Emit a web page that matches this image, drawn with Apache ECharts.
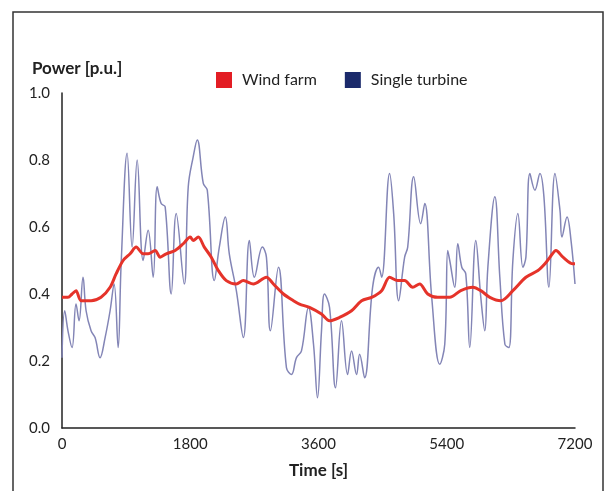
<!DOCTYPE html>
<html>
<head>
<meta charset="utf-8">
<script src="https://cdn.jsdelivr.net/npm/echarts@6/dist/echarts.min.js"></script>
<style>
html,body{margin:0;padding:0;background:#fff;}
#c{width:609px;height:491px;}
</style>
</head>
<body>
<div id="c"></div>
<script>
// Time [s] and power [p.u.] for the single turbine
const turbineTime = [0,38,84,141,197,239,295,338,408,464,534,605,675,731,788,830,914,984,1055,1139,1209,1280,1336,1392,1448,1533,1603,1716,1772,1842,1898,1983,2039,2138,2208,2292,2348,2447,2545,2630,2700,2813,2869,2925,3038,3150,3220,3291,3361,3459,3530,3586,3642,3684,3755,3839,3923,4008,4064,4134,4177,4247,4359,4444,4486,4598,4655,4725,4809,4852,4936,5034,5091,5189,5302,5372,5414,5442,5513,5555,5611,5667,5723,5808,5878,5934,5977,6075,6145,6216,6272,6328,6398,6469,6511,6567,6638,6708,6764,6834,6919,6989,7017,7088,7144,7200];
const turbinePower = [0.21,0.35,0.29,0.24,0.37,0.32,0.45,0.35,0.29,0.27,0.21,0.27,0.35,0.43,0.24,0.49,0.82,0.54,0.80,0.50,0.59,0.45,0.72,0.67,0.66,0.40,0.64,0.43,0.72,0.81,0.86,0.73,0.71,0.44,0.54,0.63,0.52,0.41,0.27,0.56,0.45,0.54,0.51,0.29,0.48,0.18,0.16,0.21,0.23,0.36,0.25,0.09,0.29,0.40,0.36,0.12,0.32,0.16,0.23,0.16,0.22,0.15,0.42,0.48,0.45,0.76,0.64,0.38,0.51,0.54,0.75,0.61,0.67,0.39,0.19,0.25,0.53,0.50,0.42,0.55,0.48,0.46,0.24,0.56,0.39,0.29,0.48,0.69,0.45,0.25,0.24,0.50,0.64,0.48,0.51,0.76,0.71,0.76,0.69,0.42,0.76,0.65,0.57,0.63,0.56,0.43];
// Time [s] and power [p.u.] for the wind farm
const farmTime = [0,84,141,197,267,408,548,675,759,858,956,1041,1139,1209,1308,1378,1463,1589,1702,1800,1842,1913,1997,2095,2194,2306,2447,2545,2686,2869,2967,3108,3248,3333,3473,3642,3755,3895,4064,4205,4345,4486,4598,4711,4809,4922,5020,5133,5273,5442,5597,5766,5878,6005,6159,6328,6511,6680,6778,6849,6933,7031,7172,7200];
const farmPower = [0.39,0.39,0.40,0.41,0.38,0.38,0.39,0.42,0.46,0.50,0.52,0.54,0.52,0.52,0.53,0.51,0.52,0.53,0.55,0.57,0.56,0.57,0.54,0.51,0.47,0.44,0.43,0.44,0.43,0.45,0.43,0.40,0.38,0.37,0.36,0.34,0.32,0.33,0.35,0.38,0.39,0.41,0.45,0.44,0.44,0.42,0.43,0.40,0.39,0.39,0.41,0.42,0.41,0.39,0.38,0.41,0.45,0.47,0.49,0.51,0.53,0.51,0.49,0.49];
const seriesNames = ['Wind farm', 'Single turbine'];
const xTicks = [0, 1800, 3600, 5400, 7200];

const FONT = 'Lato';
const chart = echarts.init(document.getElementById('c'), null, {renderer: 'canvas'});
const zip = (a, b) => a.map((v, i) => [v, b[i]]);

chart.setOption({
  animation: false,
  backgroundColor: '#fff',
  textStyle: {fontFamily: FONT},
  grid: {left: 62, right: 34, top: 93, bottom: 63},
  legend: {
    left: 216, top: 72, padding: 0,
    icon: 'rect', itemWidth: 16, itemHeight: 16, itemGap: 28,
    textStyle: {fontFamily: FONT, fontSize: 16, color: '#222', padding: [0, 0, 0, 5]},
    data: [
      {name: seriesNames[0], itemStyle: {color: '#e31d24'}},
      {name: seriesNames[1], itemStyle: {color: '#1b2a6b'}}
    ]
  },
  graphic: [
    {type: 'rect', shape: {x: 13, y: 12, width: 590, height: 520}, style: {fill: 'none', stroke: '#333', lineWidth: 1.5}, silent: true},
    {type: 'text', left: 32, top: 60, style: {text: 'Power [p.u.]', font: 'bold 17px ' + FONT, fill: '#222'}}
  ],
  xAxis: {
    type: 'value', min: 0, max: 7200, interval: 1800,
    name: 'Time [s]', nameLocation: 'middle', nameGap: 34,
    nameTextStyle: {fontFamily: FONT, fontWeight: 'bold', fontSize: 17, color: '#222'},
    axisLine: {show: true, lineStyle: {color: '#222', width: 1.5}},
    axisTick: {show: false},
    splitLine: {show: false},
    axisLabel: {color: '#222', fontSize: 15, margin: 9, fontFamily: FONT,
      formatter: v => xTicks.includes(v) ? String(v) : ''}
  },
  yAxis: {
    type: 'value', min: 0, max: 1, interval: 0.2,
    axisLine: {show: true, lineStyle: {color: '#222', width: 1.5}},
    axisTick: {show: false},
    splitLine: {show: false},
    axisLabel: {color: '#222', fontSize: 15, margin: 12, fontFamily: FONT, formatter: v => v.toFixed(1)}
  },
  series: [
    {
      name: seriesNames[1], type: 'line', data: zip(turbineTime, turbinePower),
      showSymbol: false, smooth: 0.4, z: 2,
      itemStyle: {color: '#1b2a6b'},
      lineStyle: {color: '#8385b6', width: 1.5}
    },
    {
      name: seriesNames[0], type: 'line', data: zip(farmTime, farmPower),
      showSymbol: false, smooth: 0.3, z: 3,
      itemStyle: {color: '#e31d24'},
      lineStyle: {color: '#e5332a', width: 3}
    }
  ]
});
</script>
</body>
</html>
